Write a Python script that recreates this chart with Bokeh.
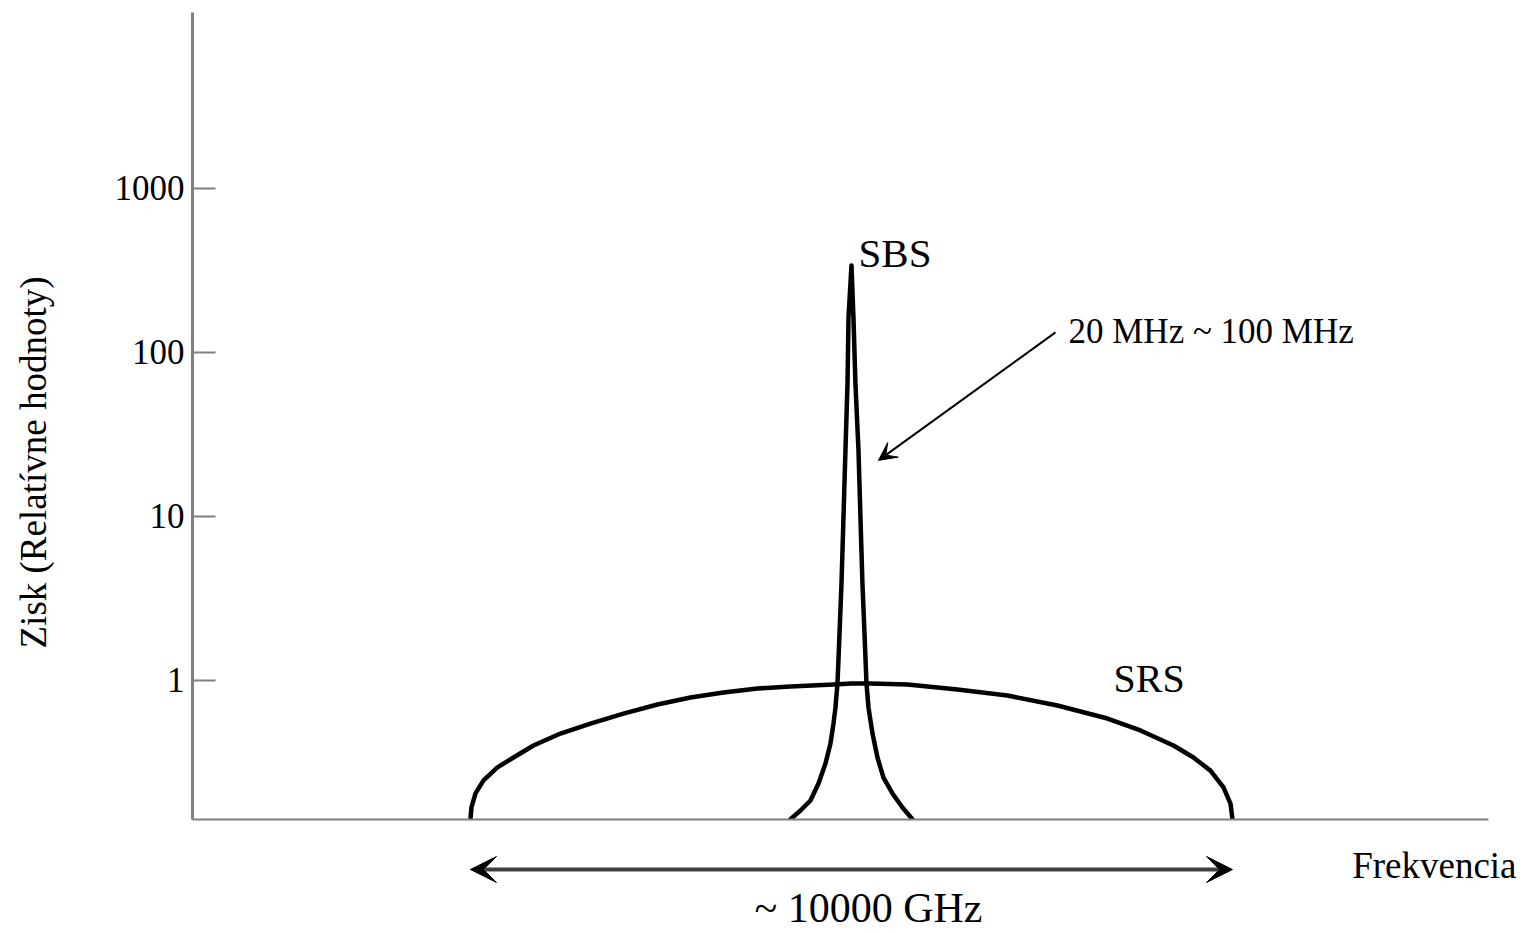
import math
from bokeh.plotting import figure
from bokeh.layouts import row, column
from bokeh.models import Range1d, FixedTicker, PrintfTickFormatter, Label, Arrow, VeeHead
from bokeh.embed import file_html
from bokeh.resources import INLINE

# ---- data (frequency offset in GHz, relative gain) ----
srs_freq = [-5000, -4987, -4934, -4829, -4646, -4436, -4173, -3819, -3425, -2992, -2546,
            -2113, -1680, -1234, -801, -236, 0, 249, 735, 1391, 2047, 2703, 3360, 3793,
            4226, 4488, 4711, 4882, 4974, 5000]
srs_gain = [0.142, 0.1675, 0.204, 0.245, 0.294, 0.338, 0.400, 0.473, 0.544, 0.626, 0.711,
            0.784, 0.841, 0.890, 0.915, 0.942, 0.955, 0.955, 0.942, 0.878, 0.807, 0.701, 0.584, 0.494,
            0.400, 0.338, 0.281, 0.222, 0.177, 0.142]

sbs_freq = [-800, -669, -538, -433, -341, -276, -236, -210, -184, -171, -157, -131, -105, -79,
            -52, -39, 0, 26, 52, 92, 118, 144, 171, 197, 223, 276, 341, 420, 538, 669, 800]
sbs_gain = [0.142, 0.1605, 0.1847, 0.2345, 0.3105, 0.411, 0.544, 0.682, 0.955, 1.318, 1.927,
            3.89, 9.82, 25.2, 64.5, 162.6, 338, 162.6, 64.5, 25.2, 9.82, 3.89, 1.927, 0.955,
            0.682, 0.473, 0.338, 0.255, 0.204, 0.1675, 0.142]

y_ticks = [1, 10, 100, 1000]

FONT = "Liberation Serif"

# ---- layout geometry (px) ----
LEFT_W = 60
MAIN_W, MAIN_H = 1464, 821
FL, FR, FT, FB = 132, 36, 12, 2          # borders of main figure
BOT_H = 111
X0, X1 = -8648, 8360                     # x range of the main frame
FRAME_W = MAIN_W - FL - FR
PX_PER_X = FRAME_W / (X1 - X0)


def no_align(fig):
    try:
        fig.frame_align = False
    except Exception:
        pass


p = figure(width=MAIN_W, height=MAIN_H,
           x_range=Range1d(X0, X1), y_range=Range1d(0.1415, 11784),
           y_axis_type="log", output_backend="svg", toolbar_location=None,
           min_border_left=FL, min_border_right=FR, min_border_top=FT, min_border_bottom=FB)
no_align(p)
p.outline_line_color = None
p.xgrid.visible = False
p.ygrid.visible = False

ya = p.yaxis[0]
ya.ticker = FixedTicker(ticks=y_ticks)
ya.formatter = PrintfTickFormatter(format="%d")
ya.minor_tick_line_color = None
ya.major_tick_in = 23
ya.major_tick_out = 0
ya.major_tick_line_color = "#7f7f7f"
ya.major_tick_line_width = 2
ya.axis_line_color = "#7f7f7f"
ya.axis_line_width = 3
ya.major_label_text_font = FONT
ya.major_label_text_font_size = "35px"
ya.major_label_text_color = "black"
ya.major_label_standoff = 8

xa = p.xaxis[0]
xa.ticker = FixedTicker(ticks=[])
xa.major_label_text_font_size = "0px"
xa.major_label_standoff = 0
xa.major_tick_in = 0
xa.major_tick_out = 0
xa.major_tick_line_color = None
xa.minor_tick_line_color = None
xa.axis_line_color = "#7f7f7f"
xa.axis_line_width = 2

p.line(srs_freq, srs_gain, line_color="black", line_width=4.5, line_join="round", line_cap="round")
p.line(sbs_freq, sbs_gain, line_color="black", line_width=4.5, line_join="round", line_cap="round")

p.add_layout(Arrow(end=VeeHead(size=18, fill_color="black", line_color="black", line_width=1),
                   x_start=2677, y_start=132, x_end=354, y_end=21.9,
                   line_color="black", line_width=2))


def lab(fig, text, x, y, size, align="left", angle=0):
    fig.add_layout(Label(text=text, x=x, y=y, x_units="screen", y_units="screen",
                         text_font=FONT, text_font_size=size, text_color="black",
                         text_align=align, text_baseline="middle", angle=angle))


lab(p, "SBS", 666, 567, "41px")
lab(p, "20 MHz ~ 100 MHz", 876, 488, "35px")
lab(p, "SRS", 921, 141, "40px")

# ---- bottom strip: span arrow and texts below the axis ----
bx0 = X0 - FL / PX_PER_X
bx1 = X1 + FR / PX_PER_X
bot = figure(width=MAIN_W, height=BOT_H, x_range=Range1d(bx0, bx1), y_range=Range1d(0, BOT_H),
             x_axis_location=None, y_axis_location=None, output_backend="svg",
             toolbar_location=None, min_border=0)
no_align(bot)
bot.outline_line_color = None
bot.xgrid.visible = False
bot.ygrid.visible = False
span_y = 63
bot.add_layout(Arrow(start=VeeHead(size=26, fill_color="black", line_color="black", line_width=1),
                     end=VeeHead(size=26, fill_color="black", line_color="black", line_width=1),
                     x_start=srs_freq[0], y_start=span_y, x_end=srs_freq[-1], y_end=span_y,
                     line_color="#404040", line_width=4))
lab(bot, "Frekvencia", 1456, 67, "37px", align="right")
lab(bot, "~ 10000 GHz", 808, 25, "42px", align="center")

# ---- left strip: y axis title ----
left = figure(width=LEFT_W, height=MAIN_H + BOT_H, x_range=Range1d(0, 1), y_range=Range1d(0, 1),
              x_axis_location=None, y_axis_location=None, output_backend="svg",
              toolbar_location=None, min_border=0)
no_align(left)
left.outline_line_color = None
left.xgrid.visible = False
left.ygrid.visible = False
lab(left, "Zisk (Relatívne hodnoty)", 33, 470, "37px", align="center", angle=math.pi / 2)

layout = row(left, column(p, bot))
open("out.html", "w").write(file_html(layout, INLINE))
